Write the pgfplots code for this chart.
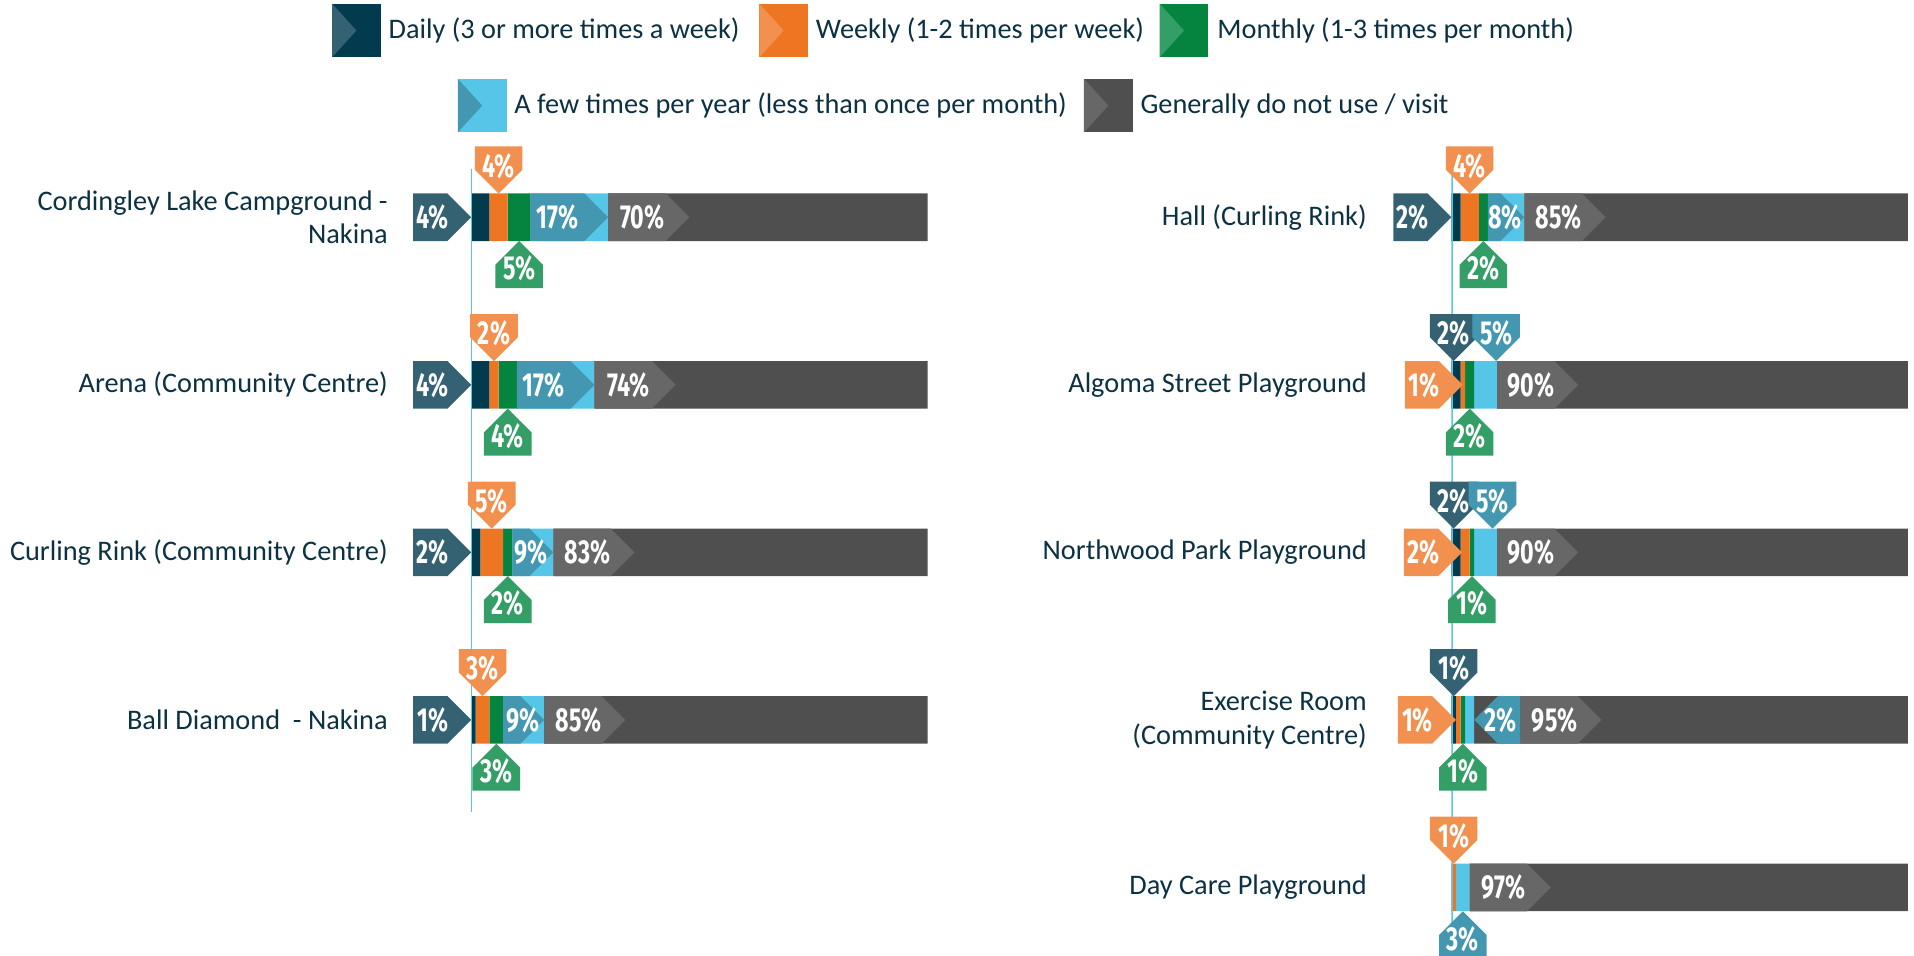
\documentclass[border=0pt]{standalone}
\usepackage{fontspec}
\setmainfont{Carlito}
\newfontfamily\pctfont[FakeStretch=0.7]{Fira Sans}
\usepackage{pgfplots}
\pgfplotsset{compat=1.18}
\usetikzlibrary{calc}
\definecolor{cD}{HTML}{023A4E}
\definecolor{cDl}{HTML}{356273}
\definecolor{cW}{HTML}{EE7623}
\definecolor{cWl}{HTML}{F2914F}
\definecolor{cM}{HTML}{05843F}
\definecolor{cMl}{HTML}{339E66}
\definecolor{cF}{HTML}{56C6E8}
\definecolor{cFl}{HTML}{4397B0}
\definecolor{cN}{HTML}{4E4F4E}
\definecolor{cNl}{HTML}{666766}
\definecolor{cT}{HTML}{0B3142}
\newcommand\catfont{\fontsize{13.2}{15.8}\selectfont}
\tikzset{pct/.style={text=white, inner sep=0pt, font=\pctfont\bfseries\fontsize{15.5}{16}\selectfont}}
% (x,row) below are data coordinates of the axis (scope uses the axis units)
\newcommand\cTop[4]{%
  \fill[#1] ($(#2,#3)+(0cm,0.39cm)$) -- ++(0.39cm,0.39cm) -- ++(0cm,0.38cm) -- ++(-0.78cm,0cm) -- ++(0cm,-0.38cm) -- cycle;
  \node[pct] at ($(#2,#3)+(0cm,0.84cm)$) {#4};}
\newcommand\cBot[4]{%
  \fill[#1] ($(#2,#3)+(0cm,-0.39cm)$) -- ++(0.39cm,-0.39cm) -- ++(0cm,-0.38cm) -- ++(-0.78cm,0cm) -- ++(0cm,0.38cm) -- cycle;
  \node[pct] at ($(#2,#3)+(0cm,-0.84cm)$) {#4};}
\newcommand\cLeft[4]{%
  \fill[#1] (#2,#3) -- ++(-0.39cm,0.39cm) -- ++(-0.56cm,0cm) -- ++(0cm,-0.78cm) -- ++(0.56cm,0cm) -- cycle;
  \node[pct] at ($(#2,#3)+(-0.63cm,0cm)$) {#4};}
\newcommand\cIn[6]{%
  \fill[#1] ($(#2,#4)+(0cm,0.39cm)$) -- ($(#3,#4)+(-0.39cm,0.39cm)$) -- (#3,#4) -- ($(#3,#4)+(-0.39cm,-0.39cm)$) -- ($(#2,#4)+(0cm,-0.39cm)$) -- cycle;
  \node[pct] at ($(#2,#4)+(#5,0cm)$) {#6};}
\newcommand\cGrey[3]{%
  \fill[cNl] ($(#1,#2)+(0cm,0.39cm)$) -- ++(0.94cm,0cm) -- ++(0.39cm,-0.39cm) -- ++(-0.39cm,-0.39cm) -- ++(-0.94cm,0cm) -- cycle;
  \node[pct] at ($(#1,#2)+(0.56cm,0cm)$) {#3};}
\newcommand\legsq[4]{%
  \fill[#3] (#1,#2) rectangle ++(0.8,-0.88);
  \fill[#4] (#1,#2) -- ++(0.4,-0.44) -- ++(-0.4,-0.44) -- cycle;}
\pgfplotsset{panel/.style={
  x=0.0748cm, y=2.745cm, anchor=origin,
  xmin=0, xmax=100, ymin=-4.41, ymax=0.45,
  xbar stacked, bar width=0.78cm,
  axis line style={draw=none}, major tick length=0pt, xtick=\empty,
  yticklabel style={font=\catfont, text=cT, align=right, inner sep=0pt},
}}
\begin{document}
\begin{tikzpicture}
\useasboundingbox (0,0) rectangle (31.36,-15.66);
% legend
\legsq{5.44}{-0.06}{cD}{cDl}
\node[anchor=west, inner sep=0pt, text=cT, font=\catfont] at (6.36,-0.5) {Daily (3 or more times a week)};
\legsq{12.44}{-0.06}{cW}{cWl}
\node[anchor=west, inner sep=0pt, text=cT, font=\catfont] at (13.36,-0.5) {Weekly (1-2 times per week)};
\legsq{19.0}{-0.06}{cM}{cMl}
\node[anchor=west, inner sep=0pt, text=cT, font=\catfont] at (19.94,-0.5) {Monthly (1-3 times per month)};
\legsq{7.5}{-1.29}{cF}{cFl}
\node[anchor=west, inner sep=0pt, text=cT, font=\catfont] at (8.42,-1.73) {A few times per year (less than once per month)};
\legsq{17.76}{-1.29}{cN}{cNl}
\node[anchor=west, inner sep=0pt, text=cT, font=\catfont] at (18.68,-1.73) {Generally do not use / visit};

% left panel
\begin{axis}[panel,
  at={(7.72cm,-3.56cm)},
  ytick={0,-1,-2,-3},
  yticklabels={{Cordingley Lake Campground -\\Nakina},{Arena (Community Centre)},{Curling Rink (Community Centre)},{Ball Diamond~ - Nakina}},
  yticklabel style={xshift=-1.36cm},
]
\draw[cF, line width=0.04cm] (axis cs:0,0.29) -- (axis cs:0,-3.55);
\addplot[fill=cD, draw=none] coordinates {(4,0) (4,-1) (2,-2) (1,-3)};
\addplot[fill=cW, draw=none] coordinates {(4,0) (2,-1) (5,-2) (3,-3)};
\addplot[fill=cM, draw=none] coordinates {(5,0) (4,-1) (2,-2) (3,-3)};
\addplot[fill=cF, draw=none] coordinates {(17,0) (17,-1) (9,-2) (9,-3)};
\addplot[fill=cN, draw=none] coordinates {(70,0) (74,-1) (83,-2) (85,-3)};
\coordinate (Lo) at (axis cs:0,0);
\end{axis}

% right panel
\begin{axis}[panel,
  at={(23.78cm,-3.56cm)},
  ytick={0,-1,-2,-3,-4},
  yticklabels={{Hall (Curling Rink)},{Algoma Street Playground},{Northwood Park Playground},{Exercise Room\\(Community Centre)},{Day Care Playground}},
  yticklabel style={xshift=-1.38cm},
]
\draw[cF, line width=0.04cm] (axis cs:0,0.29) -- (axis cs:0,-4.45);
\addplot[fill=cD, draw=none] coordinates {(2,0) (2,-1) (2,-2) (1,-3) (0,-4)};
\addplot[fill=cW, draw=none] coordinates {(4,0) (1,-1) (2,-2) (1,-3) (1,-4)};
\addplot[fill=cM, draw=none] coordinates {(2,0) (2,-1) (1,-2) (1,-3) (0,-4)};
\addplot[fill=cF, draw=none] coordinates {(8,0) (5,-1) (5,-2) (2,-3) (3,-4)};
\addplot[fill=cN, draw=none] coordinates {(85,0) (90,-1) (90,-2) (95,-3) (97,-4)};
\coordinate (Ro) at (axis cs:0,0);
\end{axis}

% value labels, in the data units of the left panel
\begin{scope}[shift={(Lo)}, x=0.0748cm, y=2.745cm]
\cIn{cFl}{13}{30}{0}{0.44cm}{17\%}
\cGrey{30}{0}{70\%}
\cLeft{cDl}{0}{0}{4\%}
\cTop{cWl}{6}{0}{4\%}
\cBot{cMl}{10.5}{0}{5\%}
\cIn{cFl}{10}{27}{-1}{0.44cm}{17\%}
\cGrey{27}{-1}{74\%}
\cLeft{cDl}{0}{-1}{4\%}
\cTop{cWl}{5}{-1}{2\%}
\cBot{cMl}{8}{-1}{4\%}
\cIn{cFl}{9}{18}{-2}{0.31cm}{9\%}
\cGrey{18}{-2}{83\%}
\cLeft{cDl}{0}{-2}{2\%}
\cTop{cWl}{4.5}{-2}{5\%}
\cBot{cMl}{8}{-2}{2\%}
\cIn{cFl}{7}{16}{-3}{0.32cm}{9\%}
\cGrey{16}{-3}{85\%}
\cLeft{cDl}{0}{-3}{1\%}
\cTop{cWl}{2.5}{-3}{3\%}
\cBot{cMl}{5.5}{-3}{3\%}
\end{scope}

% value labels, in the data units of the right panel
\begin{scope}[shift={(Ro)}, x=0.0748cm, y=2.745cm]
\cIn{cFl}{8}{16}{0}{0.28cm}{8\%}
\cGrey{16}{0}{85\%}
\cLeft{cDl}{0}{0}{2\%}
\cTop{cWl}{4}{0}{4\%}
\cBot{cMl}{7}{0}{2\%}
\cGrey{10}{-1}{90\%}
\cLeft{cWl}{2.5}{-1}{1\%}
\cTop{cDl}{0.5}{-1}{2\%}
\cTop{cFl}{9.8}{-1}{5\%}
\cBot{cMl}{4}{-1}{2\%}
\cGrey{10}{-2}{90\%}
\cLeft{cWl}{2.3}{-2}{2\%}
\cTop{cDl}{0.5}{-2}{2\%}
\cTop{cFl}{9.0}{-2}{5\%}
\cBot{cMl}{4.5}{-2}{1\%}
\fill[cFl] (5,-3) -- ++(0.39cm,0.39cm) -- ++(0.37cm,0cm) -- ++(0cm,-0.78cm) -- ++(-0.37cm,0cm) -- cycle;
\node[pct] at ($(5,-3)+(0.43cm,0cm)$) {2\%};
\cGrey{15.1}{-3}{95\%}
\cLeft{cWl}{1}{-3}{1\%}
\cTop{cDl}{0.5}{-3}{1\%}
\cBot{cMl}{2.5}{-3}{1\%}
\cGrey{4}{-4}{97\%}
\cTop{cWl}{0.5}{-4}{1\%}
\cBot{cFl}{2.5}{-4}{3\%}
\end{scope}
\end{tikzpicture}
\end{document}
